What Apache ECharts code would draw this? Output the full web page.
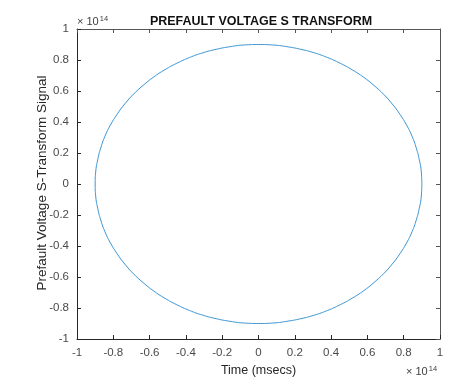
<!DOCTYPE html>
<html>
<head>
<meta charset="utf-8">
<script src="https://cdn.jsdelivr.net/npm/echarts@6/dist/echarts.min.js"></script>
<style>html,body{margin:0;padding:0;background:#fff}#c{width:470px;height:382px}</style>
</head>
<body>
<div id="c"></div>
<script>
// Signal trace (units of 1e14)
var xValues = [0.9, 0.897, 0.886, 0.869, 0.846, 0.816, 0.779, 0.737, 0.689, 0.636, 0.579, 0.516, 0.45, 0.38, 0.308, 0.233, 0.156, 0.078, 0,
  -0.078, -0.156, -0.233, -0.308, -0.38, -0.45, -0.516, -0.579, -0.636, -0.689, -0.737, -0.779, -0.816, -0.846, -0.869, -0.886, -0.897, -0.9,
  -0.897, -0.886, -0.869, -0.846, -0.816, -0.779, -0.737, -0.689, -0.636, -0.579, -0.516, -0.45, -0.38, -0.308, -0.233, -0.156, -0.078, 0,
  0.078, 0.156, 0.233, 0.308, 0.38, 0.45, 0.516, 0.579, 0.636, 0.689, 0.737, 0.779, 0.816, 0.846, 0.869, 0.886, 0.897, 0.9];
var yValues = [0, 0.078, 0.156, 0.233, 0.308, 0.38, 0.45, 0.516, 0.579, 0.636, 0.689, 0.737, 0.779, 0.816, 0.846, 0.869, 0.886, 0.897, 0.9,
  0.897, 0.886, 0.869, 0.846, 0.816, 0.779, 0.737, 0.689, 0.636, 0.579, 0.516, 0.45, 0.38, 0.308, 0.233, 0.156, 0.078, 0,
  -0.078, -0.156, -0.233, -0.308, -0.38, -0.45, -0.516, -0.579, -0.636, -0.689, -0.737, -0.779, -0.816, -0.846, -0.869, -0.886, -0.897, -0.9,
  -0.897, -0.886, -0.869, -0.846, -0.816, -0.779, -0.737, -0.689, -0.636, -0.579, -0.516, -0.45, -0.38, -0.308, -0.233, -0.156, -0.078, 0];
var titleText = 'PREFAULT VOLTAGE S TRANSFORM';
var xLabel = 'Time (msecs)';
var yLabel = 'Prefault Voltage S-Transform Signal';
var exponentText = '× 10{s|14}';

var pts = xValues.map(function (x, i) { return [x, yValues[i]]; });
var chart = echarts.init(document.getElementById('c'), null, {renderer: 'canvas'});
var fontFam = 'Liberation Sans, Arial, sans-serif';
var tickColor = '#4a4a4a';
function baseAxis(pos, show) {
  return {
    type: 'value', position: pos, min: -1, max: 1, interval: 0.2,
    axisLine: {show: true, onZero: false, lineStyle: {color: show ? '#262626' : '#555', width: 1}},
    axisTick: {show: true, inside: true, length: 4, lineStyle: {color: show ? '#262626' : '#555'}},
    axisLabel: {show: show, color: tickColor, fontSize: 11.5, fontFamily: fontFam, margin: 8,
      formatter: function (v) { return (Math.round(v * 10) / 10).toString(); }},
    splitLine: {show: false}
  };
}
var xa = baseAxis('bottom', true);
xa.name = xLabel; xa.nameLocation = 'middle'; xa.nameGap = 25;
xa.nameTextStyle = {color: '#262626', fontSize: 12.5, fontFamily: fontFam};
var ya = baseAxis('left', true);
var xaTop = baseAxis('top', false);
var yaRight = baseAxis('right', false);

chart.setOption({
  animation: false,
  backgroundColor: '#fff',
  title: {text: titleText, left: 256, top: 10, textAlign: 'center',
    textStyle: {fontSize: 12.5, fontWeight: 'bold', color: '#111', fontFamily: fontFam}},
  grid: {left: 77, right: 30, top: 29, bottom: 40, containLabel: false},
  xAxis: [xa, xaTop],
  yAxis: [ya, yaRight],
  graphic: [
    {type: 'text', x: 42, y: 183, rotation: Math.PI / 2, style: {
      text: yLabel, fill: '#262626', font: '13.5px ' + fontFam, align: 'center', verticalAlign: 'middle'}},
    {type: 'text', left: 77, top: 15, style: {
      text: exponentText, fill: '#404040', font: '11px ' + fontFam,
      rich: {s: {fontSize: 7.5, verticalAlign: 'top', fill: '#404040', padding: [0, 0, 6, 1]}}}},
    {type: 'text', left: 406, top: 365, style: {
      text: exponentText, fill: '#404040', font: '11px ' + fontFam,
      rich: {s: {fontSize: 7.5, verticalAlign: 'top', fill: '#404040', padding: [0, 0, 6, 1]}}}}
  ],
  series: [{
    type: 'line', data: pts, smooth: true, showSymbol: false,
    lineStyle: {color: '#3a96d6', width: 1}, xAxisIndex: 0, yAxisIndex: 0
  }]
});
</script>
</body>
</html>
